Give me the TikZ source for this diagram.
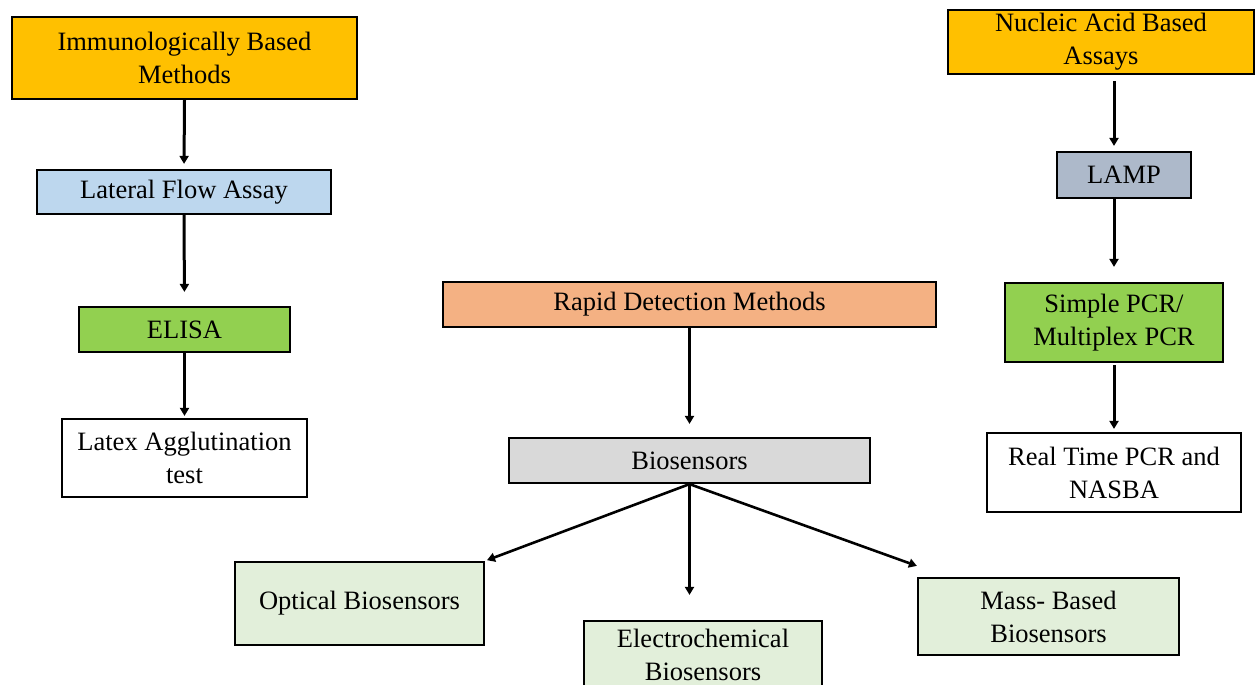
\documentclass[tikz,border=0pt]{standalone}
\usepackage{fontspec}
\setmainfont{Liberation Serif}
\usetikzlibrary{arrows.meta}
\definecolor{cOrange}{HTML}{FFC000}
\definecolor{cBlue}{HTML}{BDD7EE}
\definecolor{cGreen}{HTML}{92D050}
\definecolor{cSalmon}{HTML}{F4B183}
\definecolor{cGray}{HTML}{D9D9D9}
\definecolor{cPale}{HTML}{E2EFDA}
\definecolor{cSlate}{HTML}{ADB9CA}
\begin{document}
\begin{tikzpicture}[x=1pt,y=-1pt,
  box/.style={draw=black,line width=2.2pt,rectangle,inner sep=0pt,align=center,
    font=\fontsize{26.5}{33}\selectfont},
  arr/.style={draw=black,line width=3pt,-{Triangle[width=9pt,length=8pt]}},
  darr/.style={draw=black,line width=2.6pt,-{Triangle[width=9pt,length=8pt]}}]
\useasboundingbox (0,0) rectangle (1255,685);

% left column: immunological methods
\node[box,fill=cOrange,minimum width=345pt,minimum height=82pt] (imm) at (184.5,58) {Immunologically Based\\Methods};
\node[box,fill=cBlue,minimum width=294pt,minimum height=44pt] (lfa) at (184,192) {Lateral Flow Assay};
\node[box,fill=cGreen,minimum width=211pt,minimum height=45pt] (elisa) at (184.5,329.5) {ELISA};
\node[box,fill=white,minimum width=245pt,minimum height=78pt] (latex) at (184.5,458) {Latex Agglutination\\test};

% middle: rapid detection and biosensors
\node[box,fill=cSalmon,minimum width=493pt,minimum height=45pt] (rapid) at (689.5,304.5) {Rapid Detection Methods};
\node[box,fill=cGray,minimum width=361pt,minimum height=45pt] (bio) at (689.5,460.5) {Biosensors};
\node[box,fill=cPale,minimum width=249pt,minimum height=83pt] (opt) at (359.5,603.5) {Optical Biosensors};
\node[box,fill=cPale,minimum width=238pt,minimum height=68pt] (elec) at (703,655) {Electrochemical\\Biosensors};
\node[box,fill=cPale,minimum width=261pt,minimum height=77pt] (mass) at (1048.5,616.5) {Mass- Based\\Biosensors};

% right column: nucleic acid assays
\node[box,fill=cOrange,minimum width=306pt,minimum height=64pt] (nuc) at (1101,42) {Nucleic Acid Based\\Assays};
\node[box,fill=cSlate,minimum width=134pt,minimum height=46pt] (lamp) at (1124,175) {LAMP};
\node[box,fill=cGreen,minimum width=218pt,minimum height=79pt] (pcr) at (1114,322.5) {Simple PCR/\\Multiplex PCR};
\node[box,fill=white,minimum width=254pt,minimum height=79pt] (rt) at (1114,472.5) {Real Time PCR and\\NASBA};

% connectors
\draw[arr,shorten >=5pt] (imm.south) -- (lfa.north);
\draw[arr,shorten >=14pt] (lfa.south) -- (elisa.north);
\draw[arr,shorten >=2pt] (elisa.south) -- (latex.north);

\draw[arr,shorten >=13pt] (rapid.south) -- (bio.north);
\draw[darr,shorten >=2pt] (bio.south) -- (opt.north east);
\draw[arr,shorten >=25pt] (bio.south) -- (bio.south |- elec.north);
\draw[darr] (bio.south) -- ([yshift=11pt]mass.north west);

\draw[arr,shorten <=6pt,shorten >=5pt] (nuc.south -| pcr.center) -- (lamp.north -| pcr.center);
\draw[arr,shorten >=15pt] (lamp.south -| pcr.center) -- (pcr.north);
\draw[arr,shorten <=2pt,shorten >=3pt] (pcr.south) -- (rt.north);
\end{tikzpicture}
\end{document}
